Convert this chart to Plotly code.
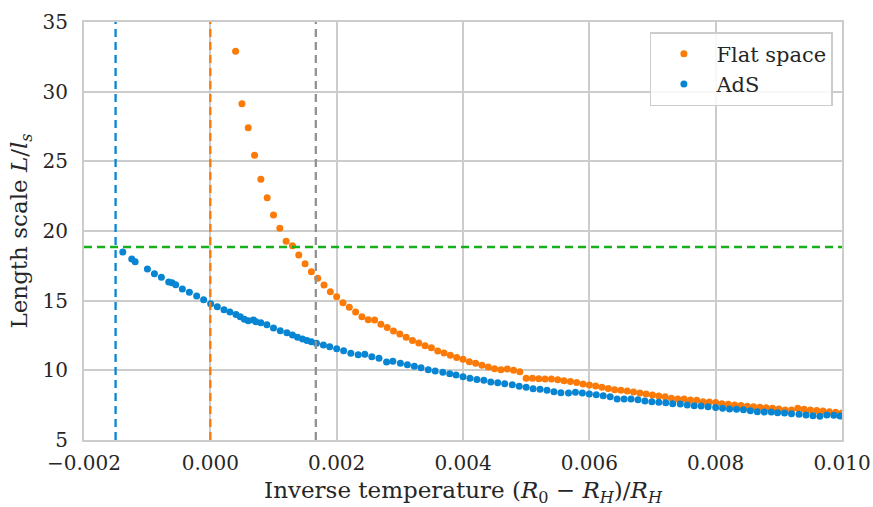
import plotly.graph_objects as go

# Flat space series
flat_x = [0.0004, 0.0005, 0.0006, 0.0007, 0.0008, 0.0009, 0.0010, 0.0011, 0.0012, 0.0013,
          0.0014, 0.0015, 0.0016, 0.0017, 0.0018, 0.0019, 0.0020, 0.0021, 0.0022, 0.0023,
          0.0024, 0.0025, 0.0026, 0.0027, 0.0028, 0.0029, 0.0030, 0.0031, 0.0032, 0.0033,
          0.0034, 0.0035, 0.0036, 0.0037, 0.0038, 0.0039, 0.0040, 0.0041, 0.0042, 0.0043,
          0.0044, 0.0045, 0.0046, 0.0047, 0.0048, 0.0049, 0.0050, 0.0051, 0.0052, 0.0053,
          0.0054, 0.0055, 0.0056, 0.0057, 0.0058, 0.0059, 0.0060, 0.0061, 0.0062, 0.0063,
          0.0064, 0.0065, 0.0066, 0.0067, 0.0068, 0.0069, 0.0070, 0.0071, 0.0072, 0.0073,
          0.0074, 0.0075, 0.0076, 0.0077, 0.0078, 0.0079, 0.0080, 0.0081, 0.0082, 0.0083,
          0.0084, 0.0085, 0.0086, 0.0087, 0.0088, 0.0089, 0.0090, 0.0091, 0.0092, 0.0093,
          0.0094, 0.0095, 0.0096, 0.0097, 0.0098, 0.0099, 0.0100]
flat_y = [32.90, 29.14, 27.41, 25.43, 23.71, 22.39, 21.15, 20.19, 19.26, 18.94,
          18.27, 17.65, 17.08, 16.60, 16.12, 15.64, 15.28, 14.85, 14.52, 14.18,
          13.85, 13.63, 13.61, 13.30, 13.08, 12.82, 12.60, 12.37, 12.15, 11.96,
          11.76, 11.62, 11.38, 11.24, 11.08, 10.92, 10.80, 10.62, 10.50, 10.36,
          10.24, 10.12, 10.05, 10.10, 10.00, 9.90, 9.43, 9.43, 9.40, 9.38,
          9.38, 9.33, 9.26, 9.19, 9.12, 9.02, 8.95, 8.88, 8.78, 8.69,
          8.61, 8.57, 8.52, 8.45, 8.37, 8.30, 8.23, 8.16, 8.11, 7.99,
          7.94, 7.94, 7.87, 7.85, 7.75, 7.73, 7.70, 7.61, 7.56, 7.51,
          7.47, 7.42, 7.39, 7.35, 7.32, 7.27, 7.23, 7.15, 7.15, 7.27,
          7.20, 7.15, 7.11, 7.08, 7.03, 6.99, 6.94]

# AdS series
ads_x = [-0.001386, -0.001244, -0.00119, -0.000996, -0.000885, -0.000775, -0.000659, -0.000606,
         -0.000548, -0.000443, -0.000332, -0.000216, -0.000106, 0.000005, 0.00011, 0.000216,
         0.00031, 0.000406, 0.000474, 0.000538, 0.0006, 0.00068, 0.000722, 0.0008,
         0.000896, 0.001, 0.001107, 0.001212, 0.0013, 0.00138, 0.00146, 0.00153,
         0.0016, 0.00168, 0.00179, 0.00189, 0.002, 0.00211, 0.002224, 0.00234,
         0.002445, 0.002556, 0.00267, 0.00279, 0.00289, 0.003009, 0.00312, 0.00323,
         0.003336, 0.00345, 0.00356, 0.00368, 0.00379, 0.00389, 0.0040, 0.00411,
         0.00422, 0.00433, 0.00444, 0.00455, 0.00466, 0.00478, 0.00489, 0.0050,
         0.00511, 0.00522, 0.00533, 0.00544, 0.00555, 0.00567, 0.00578, 0.00589,
         0.0060, 0.00611, 0.00622, 0.00633, 0.00644, 0.00655, 0.00666, 0.00677,
         0.00688, 0.00699, 0.0071, 0.00721, 0.00732, 0.00744, 0.00755, 0.00766,
         0.00777, 0.00788, 0.0080, 0.00811, 0.00822, 0.00833, 0.00844, 0.00855,
         0.00866, 0.00877, 0.00888, 0.00898, 0.00909, 0.0092, 0.00932, 0.00943,
         0.00954, 0.00965, 0.00976, 0.00987, 0.00997]
ads_y = [18.49, 17.99, 17.80, 17.27, 16.94, 16.68, 16.34, 16.29,
         16.15, 15.84, 15.60, 15.33, 15.07, 14.78, 14.57, 14.35,
         14.18, 14.00, 13.85, 13.66, 13.56, 13.61, 13.49, 13.42,
         13.27, 13.04, 12.84, 12.70, 12.54, 12.37, 12.25, 12.15,
         12.05, 11.94, 11.82, 11.70, 11.55, 11.41, 11.22, 11.12,
         11.15, 10.98, 10.86, 10.60, 10.65, 10.50, 10.40, 10.29,
         10.19, 10.05, 9.95, 9.86, 9.76, 9.66, 9.54, 9.43,
         9.35, 9.28, 9.16, 9.11, 9.04, 8.97, 8.85, 8.78,
         8.68, 8.64, 8.57, 8.47, 8.39, 8.37, 8.42, 8.37,
         8.31, 8.24, 8.18, 8.11, 7.94, 7.94, 7.94, 7.89,
         7.80, 7.75, 7.71, 7.68, 7.61, 7.58, 7.51, 7.46,
         7.44, 7.39, 7.33, 7.27, 7.22, 7.20, 7.17, 7.10,
         7.03, 7.01, 7.01, 6.96, 6.94, 6.89, 6.84, 6.79,
         6.74, 6.70, 6.79, 6.77, 6.72]

# Reference lines
vline_ads = -0.0015
vline_flat = 0.0
vline_gray = 0.00167
hline_green = 18.85

x_ticks = [-0.002, 0.0, 0.002, 0.004, 0.006, 0.008, 0.010]
x_tick_labels = ["\u22120.002", "0.000", "0.002", "0.004", "0.006", "0.008", "0.010"]
y_ticks = [5, 10, 15, 20, 25, 30, 35]

ORANGE = "#fb7a08"
BLUE = "#0785d3"
GREEN = "#15b01a"
GRAY = "#929292"
FONT = "DejaVu Serif"
TXT = "#262626"

fig = go.Figure()
fig.add_trace(go.Scatter(x=flat_x, y=flat_y, mode="markers", name="Flat space",
                         marker=dict(color=ORANGE, size=7)))
fig.add_trace(go.Scatter(x=ads_x, y=ads_y, mode="markers", name="AdS",
                         marker=dict(color=BLUE, size=7)))

dash = "8px,5px"
for xv, col in [(vline_ads, BLUE), (vline_flat, ORANGE), (vline_gray, GRAY)]:
    fig.add_shape(type="line", xref="x", yref="paper", x0=xv, x1=xv, y0=0, y1=1,
                  line=dict(color=col, width=2.3, dash=dash), layer="above")
fig.add_shape(type="line", xref="paper", yref="y", x0=0, x1=1, y0=hline_green, y1=hline_green,
              line=dict(color=GREEN, width=2.3, dash=dash), layer="above")

fig.update_layout(
    width=873, height=507,
    margin=dict(l=84, r=31, t=22, b=67),
    paper_bgcolor="white", plot_bgcolor="white",
    font=dict(family=FONT, size=20, color=TXT),
    showlegend=True,
    legend=dict(x=0.988, y=0.976, xanchor="right", yanchor="top",
                bgcolor="rgba(255,255,255,0.85)", bordercolor="#cccccc", borderwidth=1.5,
                font=dict(family=FONT, size=21, color=TXT),
                itemwidth=55, tracegroupgap=0),
    xaxis=dict(range=[-0.002, 0.010], tickvals=x_ticks, ticktext=x_tick_labels,
               showgrid=True, gridcolor="#cccccc", gridwidth=1.6,
               showline=True, linecolor="#cccccc", linewidth=2, mirror=True,
               zeroline=False, ticks="", automargin=False, ticklabelstandoff=4,
               tickfont=dict(size=20, color=TXT),
               title=dict(text="Inverse temperature (<i>R</i><sub>0</sub> \u2212 <i>R<sub>H</sub></i>)/<i>R<sub>H</sub></i>",
                          font=dict(size=23, color=TXT), standoff=8)),
    yaxis=dict(range=[5, 35], tickvals=y_ticks,
               showgrid=True, gridcolor="#cccccc", gridwidth=1.6,
               showline=True, linecolor="#cccccc", linewidth=2, mirror=True,
               zeroline=False, ticks="", automargin=False, ticklabelstandoff=10,
               tickfont=dict(size=20, color=TXT),
               title=dict(text="Length scale <i>L</i>/<i>l<sub>s</sub></i>",
                          font=dict(size=23, color=TXT), standoff=8)),
)

fig.write_html("out.html")
